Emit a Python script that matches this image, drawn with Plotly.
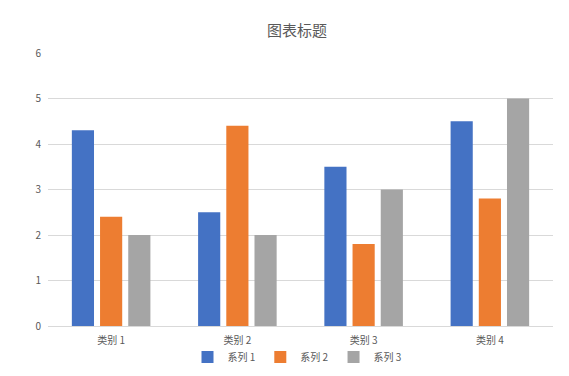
import plotly.graph_objects as go

categories = ["类别 1", "类别 2", "类别 3", "类别 4"]
series_names = ["系列 1", "系列 2", "系列 3"]
series1 = [4.3, 2.5, 3.5, 4.5]
series2 = [2.4, 4.4, 1.8, 2.8]
series3 = [2, 2, 3, 5]
colors = ["#4472C4", "#ED7D31", "#A5A5A5"]

font_family = "Noto Sans CJK SC, Noto Sans, sans-serif"

fig = go.Figure()
for name, vals, c in zip(series_names, [series1, series2, series3], colors):
    fig.add_trace(go.Bar(x=categories, y=vals, name=name, marker=dict(color=c, line=dict(width=0))))

fig.update_layout(
    width=569, height=376,
    paper_bgcolor="white", plot_bgcolor="white",
    margin=dict(l=48, r=16, t=53, b=50, autoexpand=False),
    barmode="group", bargap=0.33, bargroupgap=0.214,
    font=dict(family=font_family, size=10, color="#595959"),
    title=dict(text="图表标题", x=297 / 569, xanchor="center", xref="container",
               y=1 - 31 / 376, yanchor="middle", yref="container",
               font=dict(size=15, color="#595959", family=font_family)),
    showlegend=True,
    legend=dict(orientation="h", x=297 / 569, xanchor="center", xref="container",
                y=1 - 357 / 376, yanchor="middle", yref="container",
                font=dict(size=10, color="#595959"), itemwidth=30,
                traceorder="normal", bgcolor="rgba(0,0,0,0)"),
    xaxis=dict(showgrid=False, showline=True, linecolor="#D9D9D9", linewidth=1,
               ticks="outside", ticklen=5, tickcolor="rgba(0,0,0,0)",
               automargin=False, tickfont=dict(size=10, color="#595959")),
    yaxis=dict(range=[0, 6], dtick=1, showgrid=True, gridcolor="#D9D9D9", gridwidth=1,
               zeroline=False, showline=False, ticks="outside", ticklen=4,
               tickcolor="rgba(0,0,0,0)", automargin=False,
               tickfont=dict(size=10, color="#595959")),
)

fig.write_html("out.html", config={"displayModeBar": False},
               post_script="document.body.style.margin='0';")
